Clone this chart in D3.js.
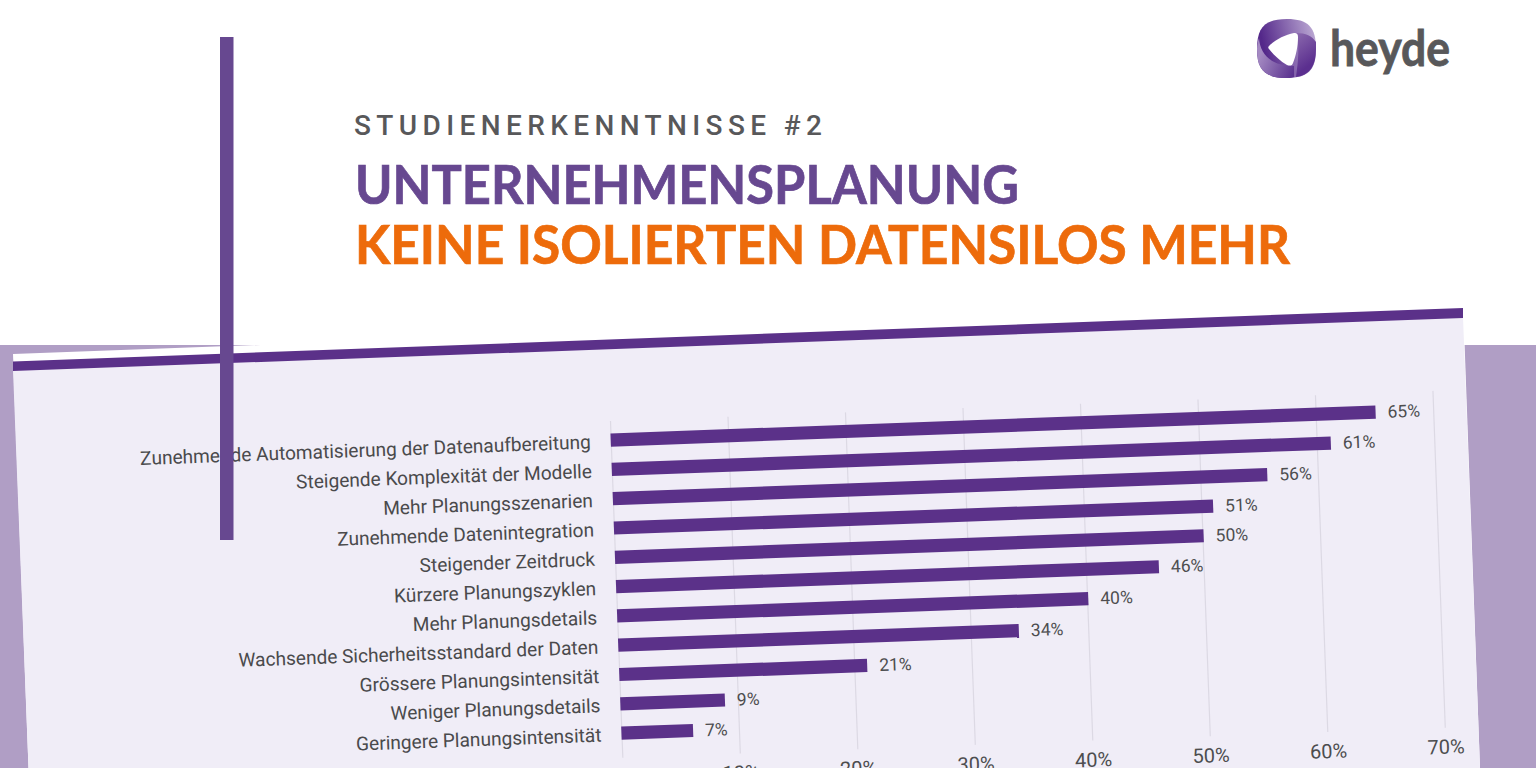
<!DOCTYPE html>
<html>
<head>
<meta charset="utf-8">
<script src="https://cdn.jsdelivr.net/npm/d3@7"></script>
<style>
    html, body { margin: 0; padding: 0; background: #fff; overflow: hidden; }
    svg { display: block; }
    .grid .domain { display: none; }
    .grid line { stroke: #dcd9e4; stroke-width: 1.2; }
    .grid text { font-family: Roboto, sans-serif; font-size: 20px; fill: #4d4d4f; }
    .catLabel { font-family: Roboto, sans-serif; font-size: 19.1px; fill: #4a4a4c; }
    .valLabel { font-family: Roboto, sans-serif; font-size: 17.5px; fill: #4d4d4f; }
</style>
</head>
<body>
<div class="chart"></div>
<script>
const categories = [
    "Zunehmende Automatisierung der Datenaufbereitung",
    "Steigende Komplexität der Modelle",
    "Mehr Planungsszenarien",
    "Zunehmende Datenintegration",
    "Steigender Zeitdruck",
    "Kürzere Planungszyklen",
    "Mehr Planungsdetails",
    "Wachsende Sicherheitsstandard der Daten",
    "Grössere Planungsintensität",
    "Weniger Planungsdetails",
    "Geringere Planungsintensität"
];
// printed labels
const values = [65, 61, 56, 51, 50, 46, 40, 34, 21, 9, 7];
// bar lengths as measured against the grid, they differ a bit from the labels
const barValues = [65.1, 61.2, 55.7, 51, 50.1, 46.2, 40.1, 34.1, 21.1, 8.9, 6.1];
const tickValues = [0, 10, 20, 30, 40, 50, 60, 70];

const width = 1536, height = 768;
const purple = "#5b3189", titlePurple = "#674890", orange = "#ed6b0b", grey = "#58585a";

const svg = d3.select(".chart").append("svg")
    .attr("width", width)
    .attr("height", height);

// background block and the tilted sheet
svg.append("rect").attr("x", 0).attr("y", 345).attr("width", width).attr("height", 423).attr("fill", "#b09ec5");
svg.append("polygon").attr("points", "13,354 1463,301 1480,768 28.5,768").attr("fill", "#fff");
svg.append("polygon").attr("points", "13,370 1463,317 1480,768 28.5,768").attr("fill", "#f0edf7");
svg.append("polygon").attr("points", "13,361.5 1463,308 1463,318 13,371").attr("fill", purple);

// chart sits in a slightly rotated group
const plotW = 823, plotH = 337;
const plot = svg.append("g").attr("transform", "translate(610,421) rotate(-2.096)");

const xScale = d3.scaleLinear().domain([0, 70]).range([0, plotW]);
const yScale = d3.scaleBand()
    .domain(categories)
    .range([4.4, 327])
    .paddingInner(0.55)
    .paddingOuter(0.275);

const xAxis = d3.axisBottom(xScale)
    .tickValues(tickValues)
    .tickSize(-plotH)
    .tickPadding(12)
    .tickFormat(d => d === 0 ? "" : d + "%");

plot.append("g")
    .attr("class", "grid")
    .attr("transform", "translate(0," + plotH + ")")
    .call(xAxis);

plot.selectAll(".bar")
    .data(barValues)
    .enter().append("rect")
    .attr("class", "bar")
    .attr("x", 0)
    .attr("y", (d, i) => yScale(categories[i]))
    .attr("width", d => xScale(d))
    .attr("height", yScale.bandwidth())
    .attr("fill", purple);

plot.selectAll(".catLabel")
    .data(categories)
    .enter().append("text")
    .attr("class", "catLabel")
    .attr("x", -20)
    .attr("y", d => yScale(d) + yScale.bandwidth() / 2 + 1)
    .attr("dy", "0.35em")
    .attr("text-anchor", "end")
    .text(d => d);

plot.selectAll(".valLabel")
    .data(values)
    .enter().append("text")
    .attr("class", "valLabel")
    .attr("x", (d, i) => xScale(barValues[i]) + 12)
    .attr("y", (d, i) => yScale(categories[i]) + yScale.bandwidth() / 2)
    .attr("dy", "0.35em")
    .text(d => d + "%");

// headline
svg.append("text")
    .attr("x", 354).attr("y", 135)
    .attr("textLength", 468).attr("lengthAdjust", "spacing")
    .style("font-family", "Roboto, sans-serif").style("font-size", "28px").style("font-weight", 500)
    .attr("fill", grey)
    .text("STUDIENERKENNTNISSE #2");
svg.append("text")
    .attr("x", 355).attr("y", 204)
    .attr("textLength", 664).attr("lengthAdjust", "spacingAndGlyphs")
    .style("font-family", "Lato, sans-serif").style("font-size", "54px").style("font-weight", 700)
    .attr("fill", titlePurple).attr("stroke", titlePurple).attr("stroke-width", 0.7)
    .text("UNTERNEHMENSPLANUNG");
svg.append("text")
    .attr("x", 355).attr("y", 264)
    .attr("textLength", 935).attr("lengthAdjust", "spacingAndGlyphs")
    .style("font-family", "Lato, sans-serif").style("font-size", "54px").style("font-weight", 700)
    .attr("fill", orange).attr("stroke", orange).attr("stroke-width", 0.7)
    .text("KEINE ISOLIERTEN DATENSILOS MEHR");

// vertical accent goes over everything
svg.append("rect").attr("x", 220).attr("y", 37).attr("width", 13.5).attr("height", 503).attr("fill", titlePurple);

// logo
const defs = svg.append("defs");
function grad(id, x1, y1, x2, y2, c1, c2) {
    const g = defs.append("linearGradient").attr("id", id)
        .attr("gradientUnits", "userSpaceOnUse")
        .attr("x1", x1).attr("y1", y1).attr("x2", x2).attr("y2", y2);
    g.append("stop").attr("offset", 0).attr("stop-color", c1);
    g.append("stop").attr("offset", 1).attr("stop-color", c2);
}
grad("gTop", 1262, 40, 1312, 28, "#54288a", "#b7a3d0");
grad("gRight", 1316, 60, 1296, 34, "#5b2f8f", "#8a68ad");
grad("gBottom", 1260, 55, 1300, 74, "#a48ac2", "#4f2487");

const logo = svg.append("g");
logo.append("path")
    .attr("d", "M1257,49 C1257,27 1265,19 1287,19 C1308,19 1316,27 1316,49 C1316,70 1308,78 1287,78 C1265,78 1257,70 1257,49 Z")
    .attr("fill", "url(#gTop)");
logo.append("path")
    .attr("d", "M1296,33 C1306,33 1312,36 1316,42 C1316,46 1316,48 1316,49 C1316,66 1310,75 1296,77 C1298,62 1300,46 1296,33 Z")
    .attr("fill", "url(#gRight)");
logo.append("path")
    .attr("d", "M1259,38 C1260,55 1272,66 1294,66 L1294,77 C1290,78 1288,78 1287,78 C1265,78 1257,70 1257,49 C1257,45 1258,41 1259,38 Z")
    .attr("fill", "url(#gBottom)");
logo.append("path")
    .attr("d", "M1269,46 C1276,39 1285,35 1294,33 C1297,33 1298,34 1298,37 C1298,46 1296,56 1293,63 C1292,66 1290,66 1287,65 C1280,61 1274,55 1269,49 C1268,48 1268,47 1269,46 Z")
    .attr("fill", "#fff");
svg.append("text")
    .attr("x", 1330).attr("y", 66)
    .attr("textLength", 120).attr("lengthAdjust", "spacingAndGlyphs")
    .style("font-family", "Lato, sans-serif").style("font-size", "49px").style("font-weight", 700)
    .attr("fill", grey).attr("stroke", grey).attr("stroke-width", 0.8)
    .text("heyde");
</script>
</body>
</html>
